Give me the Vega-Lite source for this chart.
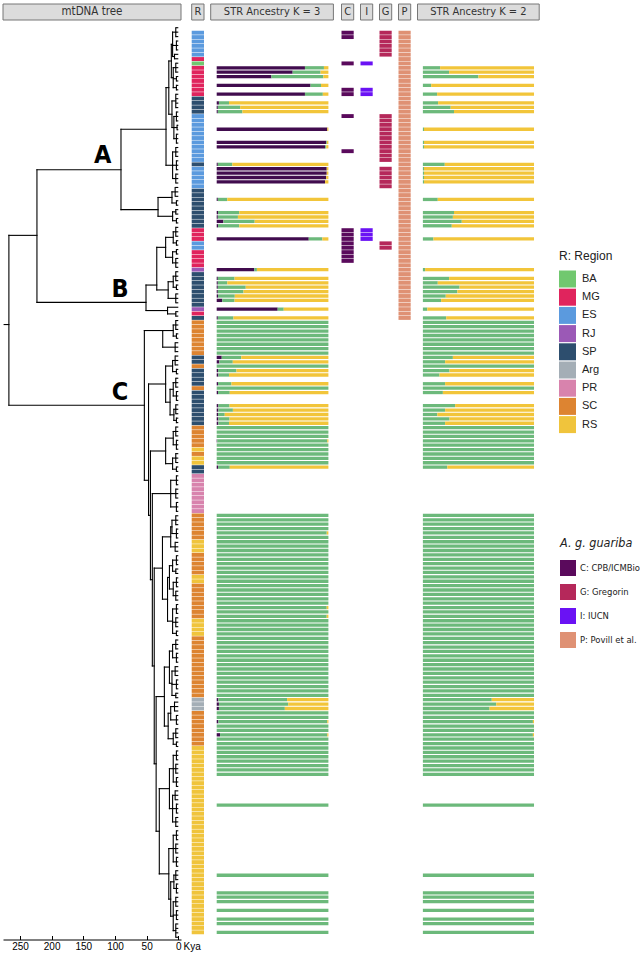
{
"$schema": "https://vega.github.io/schema/vega-lite/v6.json",
"padding": {"left": 2, "top": 3, "right": 0, "bottom": 0},
"background": "white",
"config": {"view": {"stroke": null}, "font": "Liberation Sans"},
"datasets": {
"rows": [
{"r":0,"reg":"ES","t":4,"s":"CGP"},{"r":1,"reg":"ES","t":4,"s":"CGP"},{"r":2,"reg":"ES","t":4,"s":"GP"},{"r":3,"reg":"ES","t":3,"s":"GP"},{"r":4,"reg":"ES","t":3,"s":"GP"},{"r":5,"reg":"ES","t":3,"s":"GP"},{"r":6,"reg":"MG","t":6,"s":"P"},{"r":7,"reg":"BA","t":6,"s":"CIP"},{"r":8,"reg":"MG","t":4,"s":"P"},{"r":9,"reg":"MG","t":4,"s":"P"},
{"r":10,"reg":"MG","t":4,"s":"P"},{"r":11,"reg":"MG","t":3,"s":"P"},{"r":12,"reg":"MG","t":3,"s":"P"},{"r":13,"reg":"MG","t":3,"s":"CIP"},{"r":14,"reg":"MG","t":3,"s":"CIP"},{"r":15,"reg":"SP","t":4,"s":"P"},{"r":16,"reg":"SP","t":4,"s":"P"},{"r":17,"reg":"SP","t":4,"s":"P"},{"r":18,"reg":"SP","t":4,"s":"P"},{"r":19,"reg":"ES","t":3,"s":"CGP"},
{"r":20,"reg":"ES","t":3,"s":"GP"},{"r":21,"reg":"ES","t":3,"s":"GP"},{"r":22,"reg":"ES","t":2,"s":"GP"},{"r":23,"reg":"ES","t":2,"s":"GP"},{"r":24,"reg":"ES","t":3,"s":"GP"},{"r":25,"reg":"ES","t":3,"s":"GP"},{"r":26,"reg":"ES","t":3,"s":"GP"},{"r":27,"reg":"ES","t":4,"s":"CGP"},{"r":28,"reg":"ES","t":4,"s":"GP"},{"r":29,"reg":"ES","t":4,"s":"GP"},
{"r":30,"reg":"SP","t":3,"s":"P"},{"r":31,"reg":"ES","t":3,"s":"GP"},{"r":32,"reg":"ES","t":3,"s":"GP"},{"r":33,"reg":"ES","t":4,"s":"GP"},{"r":34,"reg":"ES","t":4,"s":"GP"},{"r":35,"reg":"ES","t":4,"s":"GP"},{"r":36,"reg":"SP","t":5,"s":"P"},{"r":37,"reg":"SP","t":5,"s":"P"},{"r":38,"reg":"SP","t":5,"s":"P"},{"r":39,"reg":"SP","t":3,"s":"P"},
{"r":40,"reg":"SP","t":3,"s":"P"},{"r":41,"reg":"SP","t":4,"s":"P"},{"r":42,"reg":"SP","t":4,"s":"P"},{"r":43,"reg":"SP","t":3,"s":"P"},{"r":44,"reg":"SP","t":3,"s":"P"},{"r":45,"reg":"MG","t":4,"s":"CIP"},{"r":46,"reg":"MG","t":4,"s":"CIP"},{"r":47,"reg":"MG","t":4,"s":"CIP"},{"r":48,"reg":"ES","t":3,"s":"CGP"},{"r":49,"reg":"ES","t":3,"s":"CGP"},
{"r":50,"reg":"MG","t":3,"s":"CP"},{"r":51,"reg":"MG","t":3,"s":"CP"},{"r":52,"reg":"MG","t":4,"s":"CP"},{"r":53,"reg":"MG","t":4,"s":"P"},{"r":54,"reg":"RJ","t":4,"s":"P"},{"r":55,"reg":"SP","t":4,"s":"P"},{"r":56,"reg":"SP","t":4,"s":"P"},{"r":57,"reg":"SP","t":4,"s":"P"},{"r":58,"reg":"SP","t":3,"s":"P"},{"r":59,"reg":"SP","t":3,"s":"P"},
{"r":60,"reg":"SP","t":4,"s":"P"},{"r":61,"reg":"SP","t":4,"s":"P"},{"r":62,"reg":"SP","t":4,"s":"P"},{"r":63,"reg":"RJ","t":17,"s":"P"},{"r":64,"reg":"MG","t":4,"s":"P"},{"r":65,"reg":"SP","t":4,"s":"P"},{"r":66,"reg":"SC","t":4},{"r":67,"reg":"SC","t":4},{"r":68,"reg":"SC","t":4},{"r":69,"reg":"SC","t":3},
{"r":70,"reg":"SC","t":3},{"r":71,"reg":"SC","t":5},{"r":72,"reg":"SC","t":5},{"r":73,"reg":"SC","t":5},{"r":74,"reg":"SP","t":5},{"r":75,"reg":"SP","t":5},{"r":76,"reg":"SC","t":5},{"r":77,"reg":"SP","t":3},{"r":78,"reg":"SP","t":3},{"r":79,"reg":"SP","t":4},
{"r":80,"reg":"SP","t":4},{"r":81,"reg":"SC","t":4},{"r":82,"reg":"SP","t":3},{"r":83,"reg":"SP","t":3},{"r":84,"reg":"SP","t":3},{"r":85,"reg":"SP","t":4},{"r":86,"reg":"SP","t":4},{"r":87,"reg":"SP","t":4},{"r":88,"reg":"SP","t":3},{"r":89,"reg":"SP","t":3},
{"r":90,"reg":"SC","t":4},{"r":91,"reg":"SC","t":4},{"r":92,"reg":"SC","t":4},{"r":93,"reg":"SC","t":3},{"r":94,"reg":"SC","t":3},{"r":95,"reg":"RS","t":3},{"r":96,"reg":"SC","t":4},{"r":97,"reg":"RS","t":4},{"r":98,"reg":"RS","t":4},{"r":99,"reg":"SP","t":3},
{"r":100,"reg":"SP","t":3},{"r":101,"reg":"PR","t":3},{"r":102,"reg":"PR","t":3},{"r":103,"reg":"PR","t":3},{"r":104,"reg":"PR","t":4},{"r":105,"reg":"PR","t":4},{"r":106,"reg":"PR","t":4},{"r":107,"reg":"PR","t":3},{"r":108,"reg":"PR","t":3},{"r":109,"reg":"PR","t":3},
{"r":110,"reg":"SC","t":4},{"r":111,"reg":"SC","t":4},{"r":112,"reg":"SC","t":4},{"r":113,"reg":"SC","t":3},{"r":114,"reg":"SC","t":3},{"r":115,"reg":"SC","t":3},{"r":116,"reg":"RS","t":5},{"r":117,"reg":"RS","t":5},{"r":118,"reg":"RS","t":5},{"r":119,"reg":"SC","t":3},
{"r":120,"reg":"SC","t":3},{"r":121,"reg":"SC","t":3},{"r":122,"reg":"SC","t":4},{"r":123,"reg":"SC","t":4},{"r":124,"reg":"RS","t":3},{"r":125,"reg":"RS","t":3},{"r":126,"reg":"SC","t":3},{"r":127,"reg":"SC","t":4},{"r":128,"reg":"SC","t":4},{"r":129,"reg":"SC","t":4},
{"r":130,"reg":"SC","t":3},{"r":131,"reg":"SC","t":3},{"r":132,"reg":"SC","t":3},{"r":133,"reg":"SC","t":4},{"r":134,"reg":"RS","t":4},{"r":135,"reg":"RS","t":4},{"r":136,"reg":"RS","t":3},{"r":137,"reg":"RS","t":3},{"r":138,"reg":"SC","t":4},{"r":139,"reg":"SC","t":4},
{"r":140,"reg":"SC","t":4},{"r":141,"reg":"SC","t":3},{"r":142,"reg":"SC","t":3},{"r":143,"reg":"SC","t":3},{"r":144,"reg":"SC","t":5},{"r":145,"reg":"SC","t":5},{"r":146,"reg":"SC","t":5},{"r":147,"reg":"SC","t":3},{"r":148,"reg":"SC","t":3},{"r":149,"reg":"SC","t":3},
{"r":150,"reg":"SC","t":4},{"r":151,"reg":"SC","t":4},{"r":152,"reg":"Arg","t":6},{"r":153,"reg":"Arg","t":6},{"r":154,"reg":"Arg","t":6},{"r":155,"reg":"SC","t":3},{"r":156,"reg":"SC","t":3},{"r":157,"reg":"SC","t":3},{"r":158,"reg":"SC","t":4},{"r":159,"reg":"SC","t":4},
{"r":160,"reg":"SC","t":4},{"r":161,"reg":"SC","t":3},{"r":162,"reg":"SC","t":3},{"r":163,"reg":"RS","t":3},{"r":164,"reg":"RS","t":3},{"r":165,"reg":"RS","t":3},{"r":166,"reg":"RS","t":4},{"r":167,"reg":"RS","t":4},{"r":168,"reg":"RS","t":4},{"r":169,"reg":"RS","t":3},
{"r":170,"reg":"RS","t":3},{"r":171,"reg":"RS","t":3},{"r":172,"reg":"RS","t":5},{"r":173,"reg":"RS","t":5},{"r":174,"reg":"RS","t":5},{"r":175,"reg":"RS","t":3},{"r":176,"reg":"RS","t":3},{"r":177,"reg":"RS","t":3},{"r":178,"reg":"RS","t":4},{"r":179,"reg":"RS","t":4},
{"r":180,"reg":"RS","t":4},{"r":181,"reg":"RS","t":3},{"r":182,"reg":"RS","t":3},{"r":183,"reg":"RS","t":3},{"r":184,"reg":"RS","t":4},{"r":185,"reg":"RS","t":4},{"r":186,"reg":"RS","t":4},{"r":187,"reg":"RS","t":3},{"r":188,"reg":"RS","t":3},{"r":189,"reg":"RS","t":3},
{"r":190,"reg":"RS","t":4},{"r":191,"reg":"RS","t":4},{"r":192,"reg":"RS","t":4},{"r":193,"reg":"RS","t":3},{"r":194,"reg":"RS","t":3},{"r":195,"reg":"RS","t":3},{"r":196,"reg":"RS","t":4},{"r":197,"reg":"RS","t":4},{"r":198,"reg":"RS","t":4},{"r":199,"reg":"RS","t":3},
{"r":200,"reg":"RS","t":3},{"r":201,"reg":"RS","t":3},{"r":202,"reg":"RS","t":4},{"r":203,"reg":"RS","t":4},{"r":204,"reg":"RS","t":4},{"r":205,"reg":"RS","t":4}
],
"k": [
{"r":8,"q1":0.79,"q2":0.17,"q3":0.04,"w1":0.155,"w2":0.845},
{"r":9,"q1":0.68,"q2":0.25,"q3":0.07,"w1":0.236,"w2":0.764},
{"r":10,"q1":0.49,"q2":0.465,"q3":0.045,"w1":0.5,"w2":0.5},
{"r":12,"q1":0.84,"q2":0.094,"q3":0.066,"w1":0.075,"w2":0.925},
{"r":14,"q1":0.79,"q2":0.16,"q3":0.05,"w1":0.128,"w2":0.872},
{"r":16,"q1":0.02,"q2":0.09,"q3":0.89,"w1":0.137,"w2":0.863},
{"r":17,"q1":0.01,"q2":0.2,"q3":0.79,"w1":0.25,"w2":0.75},
{"r":18,"q1":0.01,"q2":0.22,"q3":0.77,"w1":0.28,"w2":0.72},
{"r":22,"q1":0.99,"q3":0.01,"w1":0.01,"w2":0.99},
{"r":25,"q1":0.98,"q2":0.007,"q3":0.013,"w1":0.01,"w2":0.99},
{"r":26,"q1":0.97,"q2":0.01,"q3":0.02,"w1":0.01,"w2":0.99},
{"r":30,"q1":0.01,"q2":0.13,"q3":0.86,"w1":0.197,"w2":0.803},
{"r":31,"q1":0.985,"q3":0.015,"w1":0.01,"w2":0.99},
{"r":32,"q1":0.985,"q3":0.015,"w1":0.01,"w2":0.99},
{"r":33,"q1":0.98,"q3":0.02,"w1":0.01,"w2":0.99},
{"r":34,"q1":0.97,"q3":0.03,"w1":0.01,"w2":0.99},
{"r":38,"q1":0.01,"q2":0.085,"q3":0.905,"w1":0.134,"w2":0.866},
{"r":41,"q1":0.012,"q2":0.19,"q3":0.798,"w1":0.28,"w2":0.72},
{"r":42,"q1":0.01,"q2":0.18,"q3":0.81,"w1":0.27,"w2":0.73},
{"r":43,"q1":0.06,"q2":0.28,"q3":0.66,"w1":0.35,"w2":0.65},
{"r":44,"q1":0.012,"q2":0.19,"q3":0.798,"w1":0.26,"w2":0.74},
{"r":47,"q1":0.824,"q2":0.122,"q3":0.054,"w1":0.095,"w2":0.905},
{"r":54,"q1":0.337,"q2":0.023,"q3":0.64,"w1":0.02,"w2":0.98},
{"r":56,"q1":0.01,"q2":0.15,"q3":0.84,"w1":0.236,"w2":0.764},
{"r":57,"q1":0.01,"q2":0.085,"q3":0.905,"w1":0.134,"w2":0.866},
{"r":58,"q1":0.01,"q2":0.25,"q3":0.74,"w1":0.33,"w2":0.67},
{"r":59,"q1":0.01,"q2":0.23,"q3":0.76,"w1":0.31,"w2":0.69},
{"r":60,"q1":0.012,"q2":0.15,"q3":0.838,"w1":0.206,"w2":0.794},
{"r":61,"q1":0.05,"q2":0.11,"q3":0.84,"w1":0.164,"w2":0.836},
{"r":63,"q1":0.546,"q2":0.054,"q3":0.4,"w1":0.04,"w2":0.96},
{"r":65,"q1":0.01,"q2":0.14,"q3":0.85,"w1":0.21,"w2":0.79},
{"r":66,"q2":1,"w1":1},{"r":67,"q2":1,"w1":1},{"r":68,"q2":1,"w1":1},{"r":69,"q2":1,"w1":1},{"r":70,"q2":1,"w1":1},{"r":71,"q2":1,"w1":1},{"r":72,"q2":1,"w1":1},{"r":73,"q2":1,"w1":1},
{"r":74,"q1":0.045,"q2":0.175,"q3":0.78,"w1":0.27,"w2":0.73},
{"r":75,"q1":0.024,"q2":0.12,"q3":0.856,"w1":0.2,"w2":0.8},
{"r":76,"q2":1,"w1":1},
{"r":77,"q1":0.012,"q2":0.165,"q3":0.823,"w1":0.24,"w2":0.76},
{"r":78,"q1":0.015,"q2":0.095,"q3":0.89,"w1":0.15,"w2":0.85},
{"r":80,"q1":0.012,"q2":0.12,"q3":0.868,"w1":0.2,"w2":0.8},
{"r":81,"q2":1,"w1":1},
{"r":82,"q1":0.012,"q2":0.105,"q3":0.883,"w1":0.18,"w2":0.82},
{"r":85,"q1":0.015,"q2":0.1,"q3":0.885,"w1":0.29,"w2":0.71},
{"r":86,"q1":0.015,"q2":0.13,"q3":0.855,"w1":0.2,"w2":0.8},
{"r":87,"q1":0.012,"q2":0.06,"q3":0.928,"w1":0.13,"w2":0.87},
{"r":88,"q1":0.015,"q2":0.1,"q3":0.885,"w1":0.24,"w2":0.76},
{"r":89,"q1":0.015,"q2":0.095,"q3":0.89,"w1":0.2,"w2":0.8},
{"r":90,"q2":1,"w1":1},{"r":91,"q2":1,"w1":1},{"r":92,"q2":1,"w1":1},{"r":93,"q1":0.005,"q2":0.985,"q3":0.01,"w1":1},{"r":94,"q2":1,"w1":1},{"r":95,"q2":1,"w1":1},{"r":96,"q2":1,"w1":1},{"r":97,"q2":1,"w1":1},{"r":98,"q2":1,"w1":1},
{"r":99,"q1":0.012,"q2":0.105,"q3":0.883,"w1":0.22,"w2":0.78},
{"r":110,"q2":1,"w1":1},{"r":111,"q2":1,"w1":1},{"r":112,"q2":1,"w1":1},{"r":113,"q2":1,"w1":1},{"r":114,"q2":0.985,"q3":0.015,"w1":1},{"r":115,"q2":1,"w1":1},{"r":116,"q2":1,"w1":1},{"r":117,"q2":1,"w1":1},{"r":118,"q2":1,"w1":1},{"r":119,"q2":1,"w1":1},
{"r":120,"q2":1,"w1":1},{"r":121,"q2":1,"w1":1},{"r":122,"q2":1,"w1":1},{"r":123,"q2":1,"w1":1},{"r":124,"q2":1,"w1":1},{"r":125,"q2":1,"w1":1},{"r":126,"q2":1,"w1":1},{"r":127,"q2":1,"w1":1},{"r":128,"q2":1,"w1":1},{"r":129,"q2":1,"w1":1},
{"r":130,"q2":1,"w1":1},{"r":131,"q2":0.985,"q3":0.015,"w1":1},{"r":132,"q2":1,"w1":1},{"r":133,"q2":0.985,"q3":0.015,"w1":1},{"r":134,"q2":1,"w1":1},{"r":135,"q2":1,"w1":1},{"r":136,"q2":1,"w1":1},{"r":137,"q2":1,"w1":1},{"r":138,"q2":1,"w1":1},{"r":139,"q2":1,"w1":1},
{"r":140,"q2":1,"w1":1},{"r":141,"q2":1,"w1":1},{"r":142,"q2":1,"w1":1},{"r":143,"q2":1,"w1":1},{"r":144,"q2":1,"w1":1},{"r":145,"q2":1,"w1":1},{"r":146,"q2":1,"w1":1},{"r":147,"q2":1,"w1":1},{"r":148,"q2":1,"w1":1},{"r":149,"q2":1,"w1":1},
{"r":150,"q2":1,"w1":1},{"r":151,"q2":1,"w1":1},
{"r":152,"q1":0.015,"q2":0.615,"q3":0.37,"w1":0.62,"w2":0.38},
{"r":153,"q1":0.02,"q2":0.62,"q3":0.36,"w1":0.66,"w2":0.34},
{"r":154,"q1":0.02,"q2":0.59,"q3":0.39,"w1":0.6,"w2":0.4},
{"r":155,"q2":1,"w1":1},{"r":156,"q2":1,"w1":1},
{"r":157,"q1":0.015,"q2":0.975,"q3":0.01,"w1":0.99,"w2":0.01},
{"r":158,"q2":1,"w1":1},{"r":159,"q2":1,"w1":1},
{"r":160,"q1":0.03,"q2":0.96,"q3":0.01,"w1":0.99,"w2":0.01},
{"r":161,"q2":1,"w1":1},{"r":162,"q2":1,"w1":1},{"r":163,"q2":1,"w1":1},{"r":164,"q2":1,"w1":1},{"r":165,"q2":1,"w1":1},{"r":166,"q2":1,"w1":1},{"r":167,"q2":1,"w1":1},{"r":168,"q2":1,"w1":1},{"r":169,"q2":1,"w1":1},
{"r":176,"q2":1,"w1":1},{"r":192,"q2":1,"w1":1},{"r":196,"q2":1,"w1":1},{"r":197,"q2":1,"w1":1},{"r":198,"q2":1,"w1":1},{"r":200,"q2":1,"w1":1},{"r":202,"q2":1,"w1":1},{"r":203,"q2":1,"w1":1},{"r":205,"q2":1,"w1":1}
],
"tree": [
{"k1":4,"k2":4,"r1":0,"r2":2},{"k1":3,"k2":3,"r1":3,"r2":5},{"k1":6,"k2":6,"r1":6,"r2":7},{"k1":4,"k2":4,"r1":8,"r2":10},{"k1":3,"k2":3,"r1":11,"r2":12},{"k1":3,"k2":3,"r1":13,"r2":14},{"k1":4,"k2":4,"r1":15,"r2":18},{"k1":3,"k2":3,"r1":19,"r2":21},{"k1":2,"k2":2,"r1":22,"r2":23},{"k1":3,"k2":3,"r1":24,"r2":26},
{"k1":4,"k2":4,"r1":27,"r2":29},{"k1":3,"k2":3,"r1":30,"r2":32},{"k1":4,"k2":4,"r1":33,"r2":35},{"k1":5,"k2":5,"r1":36,"r2":38},{"k1":3,"k2":3,"r1":39,"r2":40},{"k1":4,"k2":4,"r1":41,"r2":42},{"k1":3,"k2":3,"r1":43,"r2":44},{"k1":4,"k2":4,"r1":45,"r2":47},{"k1":3,"k2":3,"r1":48,"r2":49},{"k1":3,"k2":3,"r1":50,"r2":51},
{"k1":4,"k2":4,"r1":52,"r2":54},{"k1":4,"k2":4,"r1":55,"r2":57},{"k1":3,"k2":3,"r1":58,"r2":59},{"k1":4,"k2":4,"r1":60,"r2":62},{"k1":4,"k2":4,"r1":64,"r2":65},{"k1":4,"k2":4,"r1":66,"r2":68},{"k1":3,"k2":3,"r1":69,"r2":70},{"k1":5,"k2":5,"r1":71,"r2":73},{"k1":5,"k2":5,"r1":74,"r2":76},{"k1":3,"k2":3,"r1":77,"r2":78},
{"k1":4,"k2":4,"r1":79,"r2":81},{"k1":3,"k2":3,"r1":82,"r2":84},{"k1":4,"k2":4,"r1":85,"r2":87},{"k1":3,"k2":3,"r1":88,"r2":89},{"k1":4,"k2":4,"r1":90,"r2":92},{"k1":3,"k2":3,"r1":93,"r2":95},{"k1":4,"k2":4,"r1":96,"r2":98},{"k1":3,"k2":3,"r1":99,"r2":100},{"k1":3,"k2":3,"r1":101,"r2":103},{"k1":4,"k2":4,"r1":104,"r2":106},
{"k1":3,"k2":3,"r1":107,"r2":109},{"k1":4,"k2":4,"r1":110,"r2":112},{"k1":3,"k2":3,"r1":113,"r2":115},{"k1":5,"k2":5,"r1":116,"r2":118},{"k1":3,"k2":3,"r1":119,"r2":121},{"k1":4,"k2":4,"r1":122,"r2":123},{"k1":3,"k2":3,"r1":124,"r2":126},{"k1":4,"k2":4,"r1":127,"r2":129},{"k1":3,"k2":3,"r1":130,"r2":132},{"k1":4,"k2":4,"r1":133,"r2":135},
{"k1":3,"k2":3,"r1":136,"r2":137},{"k1":4,"k2":4,"r1":138,"r2":140},{"k1":3,"k2":3,"r1":141,"r2":143},{"k1":5,"k2":5,"r1":144,"r2":146},{"k1":3,"k2":3,"r1":147,"r2":149},{"k1":4,"k2":4,"r1":150,"r2":151},{"k1":6,"k2":6,"r1":152,"r2":154},{"k1":3,"k2":3,"r1":155,"r2":157},{"k1":4,"k2":4,"r1":158,"r2":160},{"k1":3,"k2":3,"r1":161,"r2":162},
{"k1":3,"k2":3,"r1":163,"r2":165},{"k1":4,"k2":4,"r1":166,"r2":168},{"k1":3,"k2":3,"r1":169,"r2":171},{"k1":5,"k2":5,"r1":172,"r2":174},{"k1":3,"k2":3,"r1":175,"r2":177},{"k1":4,"k2":4,"r1":178,"r2":180},{"k1":3,"k2":3,"r1":181,"r2":183},{"k1":4,"k2":4,"r1":184,"r2":186},{"k1":3,"k2":3,"r1":187,"r2":189},{"k1":4,"k2":4,"r1":190,"r2":192},
{"k1":3,"k2":3,"r1":193,"r2":195},{"k1":4,"k2":4,"r1":196,"r2":198},{"k1":3,"k2":3,"r1":199,"r2":201},{"k1":4,"k2":4,"r1":202,"r2":205},
{"k1":9,"k2":9,"r1":1,"r2":6.5},{"k1":9,"k2":4,"r1":1,"r2":1},{"k1":9,"k2":3,"r1":4,"r2":4},{"k1":9,"k2":6,"r1":6.5,"r2":6.5},
{"k1":8,"k2":8,"r1":9,"r2":13.5},{"k1":8,"k2":4,"r1":9,"r2":9},{"k1":8,"k2":3,"r1":11.5,"r2":11.5},{"k1":8,"k2":3,"r1":13.5,"r2":13.5},
{"k1":11,"k2":11,"r1":3.75,"r2":11.25},{"k1":11,"k2":9,"r1":3.75,"r2":3.75},{"k1":11,"k2":8,"r1":11.25,"r2":11.25},
{"k1":7,"k2":7,"r1":20,"r2":25},{"k1":7,"k2":3,"r1":20,"r2":20},{"k1":7,"k2":2,"r1":22.5,"r2":22.5},{"k1":7,"k2":3,"r1":25,"r2":25},
{"k1":10,"k2":10,"r1":16.5,"r2":22.5},{"k1":10,"k2":4,"r1":16.5,"r2":16.5},{"k1":10,"k2":7,"r1":22.5,"r2":22.5},
{"k1":15,"k2":15,"r1":7.5,"r2":19.5},{"k1":15,"k2":11,"r1":7.5,"r2":7.5},{"k1":15,"k2":10,"r1":19.5,"r2":19.5},
{"k1":9,"k2":9,"r1":28,"r2":34},{"k1":9,"k2":4,"r1":28,"r2":28},{"k1":9,"k2":3,"r1":31,"r2":31},{"k1":9,"k2":4,"r1":34,"r2":34},
{"k1":19.4,"k2":19.4,"r1":13.5,"r2":31},{"k1":19.4,"k2":15,"r1":13.5,"r2":13.5},{"k1":19.4,"k2":9,"r1":31,"r2":31},
{"k1":10,"k2":10,"r1":37,"r2":39.5},{"k1":10,"k2":5,"r1":37,"r2":37},{"k1":10,"k2":3,"r1":39.5,"r2":39.5},
{"k1":9,"k2":9,"r1":41.5,"r2":43.5},{"k1":9,"k2":4,"r1":41.5,"r2":41.5},{"k1":9,"k2":3,"r1":43.5,"r2":43.5},
{"k1":32,"k2":32,"r1":38.25,"r2":42.5},{"k1":32,"k2":10,"r1":38.25,"r2":38.25},{"k1":32,"k2":9,"r1":42.5,"r2":42.5},
{"k1":90.5,"k2":90.5,"r1":22.9,"r2":41},{"k1":90.5,"k2":19.4,"r1":22.9,"r2":22.9},{"k1":90.5,"k2":32,"r1":41,"r2":41},
{"k1":8,"k2":8,"r1":46,"r2":48.5},{"k1":8,"k2":4,"r1":46,"r2":46},{"k1":8,"k2":3,"r1":48.5,"r2":48.5},
{"k1":9,"k2":9,"r1":50.5,"r2":53},{"k1":9,"k2":3,"r1":50.5,"r2":50.5},{"k1":9,"k2":4,"r1":53,"r2":53},
{"k1":20,"k2":20,"r1":47.25,"r2":51.75},{"k1":20,"k2":8,"r1":47.25,"r2":47.25},{"k1":20,"k2":9,"r1":51.75,"r2":51.75},
{"k1":8,"k2":8,"r1":56,"r2":58.5},{"k1":8,"k2":4,"r1":56,"r2":56},{"k1":8,"k2":3,"r1":58.5,"r2":58.5},
{"k1":16,"k2":16,"r1":57.25,"r2":61},{"k1":16,"k2":8,"r1":57.25,"r2":57.25},{"k1":16,"k2":4,"r1":61,"r2":61},
{"k1":34,"k2":34,"r1":49.5,"r2":59.1},{"k1":34,"k2":20,"r1":49.5,"r2":49.5},{"k1":34,"k2":16,"r1":59.1,"r2":59.1},
{"k1":17,"k2":17,"r1":63,"r2":64.5},{"k1":17,"k2":4,"r1":64.5,"r2":64.5},
{"k1":51,"k2":51,"r1":58,"r2":63.75},{"k1":51,"k2":34,"r1":58,"r2":58},{"k1":51,"k2":17,"r1":63.75,"r2":63.75},
{"k1":223.2,"k2":223.2,"r1":32,"r2":61.9},{"k1":223.2,"k2":90.5,"r1":32,"r2":32},{"k1":223.2,"k2":51,"r1":61.9,"r2":61.9},
{"k1":267.5,"k2":267.5,"r1":46.8,"r2":85.1},{"k1":267.5,"k2":223.2,"r1":46.8,"r2":46.8},{"k1":275,"k2":267.5,"r1":66.9,"r2":66.9},{"k1":267.5,"k2":53.6,"r1":85.1,"r2":85.1},
{"k1":8,"k2":8,"r1":67,"r2":69.5},{"k1":8,"k2":4,"r1":67,"r2":67},{"k1":8,"k2":3,"r1":69.5,"r2":69.5},
{"k1":24.6,"k2":24.6,"r1":68.25,"r2":72},{"k1":24.6,"k2":8,"r1":68.25,"r2":68.25},{"k1":24.6,"k2":5,"r1":72,"r2":72},
{"k1":9,"k2":9,"r1":75,"r2":77.5},{"k1":9,"k2":5,"r1":75,"r2":75},{"k1":9,"k2":3,"r1":77.5,"r2":77.5},
{"k1":8,"k2":8,"r1":80,"r2":83},{"k1":8,"k2":4,"r1":80,"r2":80},{"k1":8,"k2":3,"r1":83,"r2":83},
{"k1":7,"k2":7,"r1":86,"r2":88.5},{"k1":7,"k2":4,"r1":86,"r2":86},{"k1":7,"k2":3,"r1":88.5,"r2":88.5},
{"k1":13,"k2":13,"r1":81.5,"r2":87.25},{"k1":13,"k2":8,"r1":81.5,"r2":81.5},{"k1":13,"k2":7,"r1":87.25,"r2":87.25},
{"k1":20,"k2":20,"r1":76.25,"r2":84.4},{"k1":20,"k2":9,"r1":76.25,"r2":76.25},{"k1":20,"k2":13,"r1":84.4,"r2":84.4},
{"k1":8,"k2":8,"r1":91,"r2":94},{"k1":8,"k2":4,"r1":91,"r2":91},{"k1":8,"k2":3,"r1":94,"r2":94},
{"k1":9,"k2":9,"r1":97,"r2":99.5},{"k1":9,"k2":4,"r1":97,"r2":97},{"k1":9,"k2":3,"r1":99.5,"r2":99.5},
{"k1":20,"k2":20,"r1":92.5,"r2":98.25},{"k1":20,"k2":8,"r1":92.5,"r2":92.5},{"k1":20,"k2":9,"r1":98.25,"r2":98.25},
{"k1":12,"k2":12,"r1":102,"r2":108},{"k1":12,"k2":3,"r1":102,"r2":102},{"k1":12,"k2":4,"r1":105,"r2":105},{"k1":12,"k2":3,"r1":108,"r2":108},
{"k1":10,"k2":10,"r1":111,"r2":114},{"k1":10,"k2":4,"r1":111,"r2":111},{"k1":10,"k2":3,"r1":114,"r2":114},
{"k1":12,"k2":12,"r1":112.5,"r2":117},{"k1":12,"k2":10,"r1":112.5,"r2":112.5},{"k1":12,"k2":5,"r1":117,"r2":117},
{"k1":9,"k2":9,"r1":120,"r2":122.5},{"k1":9,"k2":3,"r1":120,"r2":120},{"k1":9,"k2":4,"r1":122.5,"r2":122.5},
{"k1":8,"k2":8,"r1":125,"r2":128},{"k1":8,"k2":3,"r1":125,"r2":125},{"k1":8,"k2":4,"r1":128,"r2":128},
{"k1":14,"k2":14,"r1":121.25,"r2":126.5},{"k1":14,"k2":9,"r1":121.25,"r2":121.25},{"k1":14,"k2":8,"r1":126.5,"r2":126.5},
{"k1":9,"k2":9,"r1":131,"r2":136.5},{"k1":9,"k2":3,"r1":131,"r2":131},{"k1":9,"k2":4,"r1":134,"r2":134},{"k1":9,"k2":3,"r1":136.5,"r2":136.5},
{"k1":17,"k2":17,"r1":123.9,"r2":133.75},{"k1":17,"k2":14,"r1":123.9,"r2":123.9},{"k1":17,"k2":9,"r1":133.75,"r2":133.75},
{"k1":25,"k2":25,"r1":114.75,"r2":128.8},{"k1":25,"k2":12,"r1":114.75,"r2":114.75},{"k1":25,"k2":17,"r1":128.8,"r2":128.8},
{"k1":9,"k2":9,"r1":139,"r2":142},{"k1":9,"k2":4,"r1":139,"r2":139},{"k1":9,"k2":3,"r1":142,"r2":142},
{"k1":10,"k2":10,"r1":145,"r2":150.5},{"k1":10,"k2":5,"r1":145,"r2":145},{"k1":10,"k2":3,"r1":148,"r2":148},{"k1":10,"k2":4,"r1":150.5,"r2":150.5},
{"k1":14,"k2":14,"r1":140.5,"r2":147.75},{"k1":14,"k2":9,"r1":140.5,"r2":140.5},{"k1":14,"k2":10,"r1":147.75,"r2":147.75},
{"k1":12,"k2":12,"r1":153,"r2":156},{"k1":12,"k2":6,"r1":153,"r2":153},{"k1":12,"k2":3,"r1":156,"r2":156},
{"k1":8,"k2":8,"r1":159,"r2":161.5},{"k1":8,"k2":4,"r1":159,"r2":159},{"k1":8,"k2":3,"r1":161.5,"r2":161.5},
{"k1":16,"k2":16,"r1":154.5,"r2":160.25},{"k1":16,"k2":12,"r1":154.5,"r2":154.5},{"k1":16,"k2":8,"r1":160.25,"r2":160.25},
{"k1":22,"k2":22,"r1":144.1,"r2":157.4},{"k1":22,"k2":14,"r1":144.1,"r2":144.1},{"k1":22,"k2":16,"r1":157.4,"r2":157.4},
{"k1":8,"k2":8,"r1":164,"r2":170},{"k1":8,"k2":3,"r1":164,"r2":164},{"k1":8,"k2":4,"r1":167,"r2":167},{"k1":8,"k2":3,"r1":170,"r2":170},
{"k1":9,"k2":9,"r1":173,"r2":179},{"k1":9,"k2":5,"r1":173,"r2":173},{"k1":9,"k2":3,"r1":176,"r2":176},{"k1":9,"k2":4,"r1":179,"r2":179},
{"k1":14,"k2":14,"r1":167,"r2":176},{"k1":14,"k2":8,"r1":167,"r2":167},{"k1":14,"k2":9,"r1":176,"r2":176},
{"k1":8,"k2":8,"r1":182,"r2":188},{"k1":8,"k2":3,"r1":182,"r2":182},{"k1":8,"k2":4,"r1":185,"r2":185},{"k1":8,"k2":3,"r1":188,"r2":188},
{"k1":7,"k2":7,"r1":191,"r2":194},{"k1":7,"k2":4,"r1":191,"r2":191},{"k1":7,"k2":3,"r1":194,"r2":194},
{"k1":8,"k2":8,"r1":197,"r2":203.5},{"k1":8,"k2":4,"r1":197,"r2":197},{"k1":8,"k2":3,"r1":200,"r2":200},{"k1":8,"k2":4,"r1":203.5,"r2":203.5},
{"k1":12,"k2":12,"r1":192.5,"r2":200.25},{"k1":12,"k2":7,"r1":192.5,"r2":192.5},{"k1":12,"k2":8,"r1":200.25,"r2":200.25},
{"k1":15,"k2":15,"r1":185,"r2":196.4},{"k1":15,"k2":8,"r1":185,"r2":185},{"k1":15,"k2":12,"r1":196.4,"r2":196.4},
{"k1":30,"k2":30,"r1":171.5,"r2":190.7},{"k1":30,"k2":14,"r1":171.5,"r2":171.5},{"k1":30,"k2":15,"r1":190.7,"r2":190.7},
{"k1":35,"k2":35,"r1":150.75,"r2":181.1},{"k1":35,"k2":22,"r1":150.75,"r2":150.75},{"k1":35,"k2":30,"r1":181.1,"r2":181.1},
{"k1":38,"k2":38,"r1":121.8,"r2":165.9},{"k1":38,"k2":25,"r1":121.8,"r2":121.8},{"k1":38,"k2":35,"r1":165.9,"r2":165.9},
{"k1":41,"k2":41,"r1":105,"r2":143.85},{"k1":41,"k2":12,"r1":105,"r2":105},{"k1":41,"k2":38,"r1":143.85,"r2":143.85},
{"k1":44,"k2":44,"r1":95.4,"r2":124.4},{"k1":44,"k2":20,"r1":95.4,"r2":95.4},{"k1":44,"k2":41,"r1":124.4,"r2":124.4},
{"k1":47,"k2":47,"r1":80.3,"r2":109.9},{"k1":47,"k2":20,"r1":80.3,"r2":80.3},{"k1":47,"k2":44,"r1":109.9,"r2":109.9},
{"k1":53.6,"k2":53.6,"r1":68.25,"r2":102},{"k1":53.6,"k2":24.6,"r1":68.25,"r2":68.25},{"k1":53.6,"k2":47,"r1":102,"r2":102}
],
"lab": [{"lab":"A","k":119.4,"r":28.6},{"lab":"B","k":92,"r":59},{"lab":"C","k":92,"r":82}]
},
"bounds": "full",
"spacing": 4.5,
"resolve": {"scale": {"x": "independent", "y": "independent", "color": "independent"}, "legend": {"color": "independent"}},
"vconcat": [
{
"bounds": "flush", "spacing": 10.7,
"resolve": {"scale": {"x": "independent", "y": "independent"}},
"hconcat": [
{"width": 178, "height": 16, "data": {"values": [{"h": "mtDNA tree"}]}, "layer": [
 {"mark": {"type": "rect", "fill": "#dcdcdc", "stroke": "#777777", "strokeWidth": 1}, "encoding": {}},
 {"mark": {"type": "text", "font": "DejaVu Sans Condensed", "fontSize": 11.5, "fill": "#333333"}, "encoding": {"text": {"field": "h"}}}]},
{"bounds": "flush", "spacing": 6, "resolve": {"scale": {"x": "independent", "y": "independent"}}, "hconcat": [
 {"width": 12.3, "height": 16, "data": {"values": [{"h": "R"}]}, "layer": [
  {"mark": {"type": "rect", "fill": "#dcdcdc", "stroke": "#777777", "strokeWidth": 1}, "encoding": {}},
  {"mark": {"type": "text", "font": "DejaVu Sans Condensed", "fontSize": 11, "fill": "#333333"}, "encoding": {"text": {"field": "h"}}}]},
 {"bounds": "flush", "spacing": 7.8, "resolve": {"scale": {"x": "independent", "y": "independent"}}, "hconcat": [
  {"width": 122.7, "height": 16, "data": {"values": [{"h": "STR Ancestry K = 3"}]}, "layer": [
   {"mark": {"type": "rect", "fill": "#dcdcdc", "stroke": "#777777", "strokeWidth": 1}, "encoding": {}},
   {"mark": {"type": "text", "font": "DejaVu Sans Condensed", "fontSize": 11, "fill": "#333333"}, "encoding": {"text": {"field": "h"}}}]},
  {"bounds": "flush", "spacing": 6, "resolve": {"scale": {"x": "independent", "y": "independent"}}, "hconcat": [
   {"width": 12.2, "height": 16, "data": {"values": [{"h": "C"}]}, "layer": [
    {"mark": {"type": "rect", "fill": "#dcdcdc", "stroke": "#777777", "strokeWidth": 1}, "encoding": {}},
    {"mark": {"type": "text", "font": "DejaVu Sans Condensed", "fontSize": 11, "fill": "#333333"}, "encoding": {"text": {"field": "h"}}}]},
   {"width": 12.2, "height": 16, "data": {"values": [{"h": "I"}]}, "layer": [
    {"mark": {"type": "rect", "fill": "#dcdcdc", "stroke": "#777777", "strokeWidth": 1}, "encoding": {}},
    {"mark": {"type": "text", "font": "DejaVu Sans Condensed", "fontSize": 11, "fill": "#333333"}, "encoding": {"text": {"field": "h"}}}]},
   {"width": 12.2, "height": 16, "data": {"values": [{"h": "G"}]}, "layer": [
    {"mark": {"type": "rect", "fill": "#dcdcdc", "stroke": "#777777", "strokeWidth": 1}, "encoding": {}},
    {"mark": {"type": "text", "font": "DejaVu Sans Condensed", "fontSize": 11, "fill": "#333333"}, "encoding": {"text": {"field": "h"}}}]},
   {"width": 12.2, "height": 16, "data": {"values": [{"h": "P"}]}, "layer": [
    {"mark": {"type": "rect", "fill": "#dcdcdc", "stroke": "#777777", "strokeWidth": 1}, "encoding": {}},
    {"mark": {"type": "text", "font": "DejaVu Sans Condensed", "fontSize": 11, "fill": "#333333"}, "encoding": {"text": {"field": "h"}}}]},
   {"width": 121.7, "height": 16, "data": {"values": [{"h": "STR Ancestry K = 2"}]}, "layer": [
    {"mark": {"type": "rect", "fill": "#dcdcdc", "stroke": "#777777", "strokeWidth": 1}, "encoding": {}},
    {"mark": {"type": "text", "font": "DejaVu Sans Condensed", "fontSize": 11, "fill": "#333333"}, "encoding": {"text": {"field": "h"}}}]}
  ]}
 ]}
]}
]
},
{
"bounds": "flush", "spacing": 10.7,
"resolve": {"scale": {"x": "independent", "y": "independent", "color": "independent"}, "legend": {"color": "independent"}},
"hconcat": [
{"width": 178, "height": 914, "layer": [
 {"data": {"name": "tree"}, "mark": {"type": "rule", "color": "#000000", "strokeWidth": 1.1, "strokeCap": "square"},
  "encoding": {
   "x": {"field": "k1", "type": "quantitative", "scale": {"domain": [-4.26, 276.8], "reverse": true, "nice": false, "zero": false},
    "axis": {"values": [250, 200, 150, 100, 50, 0], "grid": false, "domainColor": "#000000", "domainWidth": 1, "tickColor": "#000000", "tickSize": -4, "labelPadding": 6, "labelFlush": false, "labelOverlap": false, "labelColor": "#000000", "labelFont": "Liberation Sans", "labelFontSize": 10, "title": "Kya", "titleAngle": 0, "titleX": 180, "titleY": 2, "titleAlign": "left", "titleBaseline": "top", "titleFont": "Liberation Sans", "titleFontSize": 10, "titleFontWeight": "normal", "titleColor": "#000000"}},
   "x2": {"field": "k2"},
   "y": {"field": "r1", "type": "quantitative", "scale": {"domain": [-0.5, 205.5], "reverse": true, "nice": false, "zero": false}, "axis": null},
   "y2": {"field": "r2"}}},
 {"data": {"name": "rows"}, "mark": {"type": "rule", "color": "#000000", "strokeWidth": 1.1},
  "encoding": {
   "x": {"field": "t", "type": "quantitative", "scale": {"domain": [-4.26, 276.8], "reverse": true, "nice": false, "zero": false},
    "axis": {"values": [250, 200, 150, 100, 50, 0], "grid": false, "domainColor": "#000000", "domainWidth": 1, "tickColor": "#000000", "tickSize": -4, "labelPadding": 6, "labelFlush": false, "labelOverlap": false, "labelColor": "#000000", "labelFont": "Liberation Sans", "labelFontSize": 10, "title": "Kya", "titleAngle": 0, "titleX": 180, "titleY": 2, "titleAlign": "left", "titleBaseline": "top", "titleFont": "Liberation Sans", "titleFontSize": 10, "titleFontWeight": "normal", "titleColor": "#000000"}},
   "x2": {"datum": 0},
   "y": {"field": "r", "type": "quantitative", "scale": {"domain": [-0.5, 205.5], "reverse": true, "nice": false, "zero": false}, "axis": null}}},
 {"data": {"name": "lab"}, "mark": {"type": "text", "font": "DejaVu Sans Condensed", "fontWeight": "bold", "fontSize": 25, "fill": "#000000", "align": "center", "baseline": "middle"},
  "encoding": {
   "x": {"field": "k", "type": "quantitative", "scale": {"domain": [-4.26, 276.8], "reverse": true, "nice": false, "zero": false},
    "axis": {"values": [250, 200, 150, 100, 50, 0], "grid": false, "domainColor": "#000000", "domainWidth": 1, "tickColor": "#000000", "tickSize": -4, "labelPadding": 6, "labelFlush": false, "labelOverlap": false, "labelColor": "#000000", "labelFont": "Liberation Sans", "labelFontSize": 10, "title": "Kya", "titleAngle": 0, "titleX": 180, "titleY": 2, "titleAlign": "left", "titleBaseline": "top", "titleFont": "Liberation Sans", "titleFontSize": 10, "titleFontWeight": "normal", "titleColor": "#000000"}},
   "y": {"field": "r", "type": "quantitative", "scale": {"domain": [-0.5, 205.5], "reverse": true, "nice": false, "zero": false}, "axis": null},
   "text": {"field": "lab"}}}
]},
{"bounds": "flush", "spacing": 6, "resolve": {"scale": {"x": "independent", "y": "independent", "color": "independent"}, "legend": {"color": "independent"}}, "hconcat": [
 {"width": 12.3, "height": 914, "data": {"name": "rows"}, "mark": {"type": "bar", "orient": "horizontal", "size": 3.9},
  "encoding": {
   "x": {"datum": 0, "type": "quantitative", "scale": {"domain": [0, 1], "nice": false, "zero": false}, "axis": null},
   "x2": {"datum": 1},
   "y": {"field": "r", "type": "quantitative", "scale": {"domain": [-0.5, 205.5], "reverse": true, "nice": false, "zero": false}, "axis": null},
   "color": {"field": "reg", "type": "nominal",
    "scale": {"domain": ["BA", "MG", "ES", "RJ", "SP", "Arg", "PR", "SC", "RS"], "range": ["#71c86f", "#e0245d", "#5b9ade", "#9b59b6", "#2d4e6e", "#a4aeb6", "#d883ad", "#dd8431", "#f0c43c"]},
    "legend": {"title": "R: Region", "orient": "none", "legendX": 367.3, "legendY": 225, "padding": 0, "symbolType": "square", "symbolSize": 289, "symbolStrokeWidth": 0, "symbolOpacity": 1, "titleFont": "Liberation Sans", "titleFontSize": 12, "titleFontWeight": "normal", "titleColor": "#222222", "titlePadding": 8, "labelFont": "Liberation Sans", "labelFontSize": 11, "labelColor": "#222222", "labelOffset": 6, "rowPadding": 1.2}}}},
 {"bounds": "flush", "spacing": 7.8, "resolve": {"scale": {"x": "independent", "y": "independent", "color": "independent"}, "legend": {"color": "independent"}}, "hconcat": [
  {"width": 122.7, "height": 914, "data": {"name": "k"},
   "transform": [{"fold": ["q1", "q2", "q3"], "as": ["comp", "v"]}, {"filter": "datum.v > 0"}],
   "mark": {"type": "bar", "orient": "horizontal", "size": 3.3},
   "encoding": {
    "x": {"field": "v", "type": "quantitative", "stack": "zero", "scale": {"domain": [-0.0537, 1.0447], "nice": false, "zero": false}, "axis": null},
    "y": {"field": "r", "type": "quantitative", "scale": {"domain": [-0.5, 205.5], "reverse": true, "nice": false, "zero": false}, "axis": null},
    "color": {"field": "comp", "type": "nominal", "scale": {"domain": ["q1", "q2", "q3"], "range": ["#410c4e", "#6cb97b", "#f2c53a"]}, "legend": null},
    "order": {"field": "comp", "type": "ordinal", "sort": "ascending"}}},
  {"bounds": "flush", "spacing": 6, "resolve": {"scale": {"x": "independent", "y": "independent", "color": "independent"}, "legend": {"color": "independent"}}, "hconcat": [
   {"width": 12.2, "height": 914, "data": {"name": "rows"}, "transform": [{"filter": "datum.s && indexof(datum.s, 'C') >= 0"}],
    "mark": {"type": "bar", "orient": "horizontal", "size": 3.9},
    "encoding": {
     "x": {"datum": 0, "type": "quantitative", "scale": {"domain": [0, 1], "nice": false, "zero": false}, "axis": null},
     "x2": {"datum": 1},
     "y": {"field": "r", "type": "quantitative", "scale": {"domain": [-0.5, 205.5], "reverse": true, "nice": false, "zero": false}, "axis": null},
     "color": {"datum": "C: CPB/ICMBio", "type": "nominal",
      "scale": {"domain": ["C: CPB/ICMBio", "G: Gregorin", "I: IUCN", "P: Povill et al."], "range": ["#5a0a5c", "#b5285a", "#6a12f4", "#df9174"]},
      "legend": {"title": "A. g. guariba", "orient": "none", "legendX": 218.5, "legendY": 511, "padding": 0, "symbolType": "square", "symbolSize": 256, "symbolStrokeWidth": 0, "symbolOpacity": 1, "titleFont": "DejaVu Sans Condensed", "titleFontSize": 12.5, "titleFontStyle": "italic", "titleFontWeight": "normal", "titleColor": "#222222", "titlePadding": 11, "labelFont": "DejaVu Sans Condensed", "labelFontSize": 9.4, "labelColor": "#222222", "labelOffset": 4, "rowPadding": 8}}}},
   {"width": 12.2, "height": 914, "data": {"name": "rows"}, "transform": [{"filter": "datum.s && indexof(datum.s, 'I') >= 0"}],
    "mark": {"type": "bar", "orient": "horizontal", "size": 3.9, "color": "#6a12f4"},
    "encoding": {
     "x": {"datum": 0, "type": "quantitative", "scale": {"domain": [0, 1], "nice": false, "zero": false}, "axis": null},
     "x2": {"datum": 1},
     "y": {"field": "r", "type": "quantitative", "scale": {"domain": [-0.5, 205.5], "reverse": true, "nice": false, "zero": false}, "axis": null}}},
   {"width": 12.2, "height": 914, "data": {"name": "rows"}, "transform": [{"filter": "datum.s && indexof(datum.s, 'G') >= 0"}],
    "mark": {"type": "bar", "orient": "horizontal", "size": 3.9, "color": "#b5285a"},
    "encoding": {
     "x": {"datum": 0, "type": "quantitative", "scale": {"domain": [0, 1], "nice": false, "zero": false}, "axis": null},
     "x2": {"datum": 1},
     "y": {"field": "r", "type": "quantitative", "scale": {"domain": [-0.5, 205.5], "reverse": true, "nice": false, "zero": false}, "axis": null}}},
   {"width": 12.2, "height": 914, "data": {"name": "rows"}, "transform": [{"filter": "datum.s && indexof(datum.s, 'P') >= 0"}],
    "mark": {"type": "bar", "orient": "horizontal", "size": 3.9, "color": "#df9174"},
    "encoding": {
     "x": {"datum": 0, "type": "quantitative", "scale": {"domain": [0, 1], "nice": false, "zero": false}, "axis": null},
     "x2": {"datum": 1},
     "y": {"field": "r", "type": "quantitative", "scale": {"domain": [-0.5, 205.5], "reverse": true, "nice": false, "zero": false}, "axis": null}}},
   {"width": 121.7, "height": 914, "data": {"name": "k"},
    "transform": [{"fold": ["w1", "w2"], "as": ["comp", "v"]}, {"filter": "datum.v > 0"}],
    "mark": {"type": "bar", "orient": "horizontal", "size": 3.3},
    "encoding": {
     "x": {"field": "v", "type": "quantitative", "stack": "zero", "scale": {"domain": [-0.0484, 1.0466], "nice": false, "zero": false}, "axis": null},
     "y": {"field": "r", "type": "quantitative", "scale": {"domain": [-0.5, 205.5], "reverse": true, "nice": false, "zero": false}, "axis": null},
     "color": {"field": "comp", "type": "nominal", "scale": {"domain": ["w1", "w2"], "range": ["#6cb97b", "#f2c53a"]}, "legend": null},
     "order": {"field": "comp", "type": "ordinal", "sort": "ascending"}}}
  ]}
 ]}
]}
]
}
]
}
